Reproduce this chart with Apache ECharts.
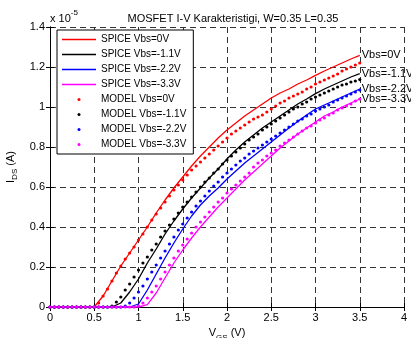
<!DOCTYPE html>
<html>
<head>
<meta charset="utf-8">
<script src="https://cdn.jsdelivr.net/npm/echarts@6/dist/echarts.min.js"></script>
<style>
html, body { margin: 0; padding: 0; background: #fff; }
#chart { width: 411px; height: 338px; }
</style>
</head>
<body>
<div id="chart"></div>
<script>
// V_GS sample points (V)
var vgsLine = [0, 0.1, 0.2, 0.3, 0.4, 0.5, 0.6, 0.7, 0.8, 0.9, 1.0, 1.1, 1.2, 1.3, 1.4, 1.5, 1.6, 1.7,
    1.8, 1.9, 2.0, 2.1, 2.2, 2.3, 2.4, 2.5, 2.6, 2.7, 2.8, 2.9, 3.0, 3.1, 3.2, 3.3, 3.4, 3.5];
var vgsDots = [0, 0.05, 0.1, 0.15, 0.2, 0.25, 0.3, 0.35, 0.4, 0.45, 0.5, 0.55, 0.6, 0.65, 0.7, 0.75,
    0.8, 0.85, 0.9, 0.95, 1.0, 1.05, 1.1, 1.15, 1.2, 1.25, 1.3, 1.35, 1.4, 1.45, 1.5, 1.55, 1.6, 1.65,
    1.7, 1.75, 1.8, 1.85, 1.9, 1.95, 2.0, 2.05, 2.1, 2.15, 2.2, 2.25, 2.3, 2.35, 2.4, 2.45, 2.5, 2.55,
    2.6, 2.65, 2.7, 2.75, 2.8, 2.85, 2.9, 2.95, 3.0, 3.05, 3.1, 3.15, 3.2, 3.25, 3.3, 3.35, 3.4, 3.45, 3.5];

// I_DS in units of 1e-5 A
var spice0 = [0, 0, 0, 0, 0, 0, 0.055, 0.13, 0.205, 0.27, 0.335, 0.40, 0.47, 0.535, 0.595, 0.65,
    0.705, 0.755, 0.80, 0.845, 0.885, 0.92, 0.955, 0.985, 1.015, 1.045, 1.07, 1.09, 1.115, 1.135,
    1.158, 1.18, 1.20, 1.22, 1.24, 1.258];
var spice11 = [0, 0, 0, 0, 0, 0, 0, 0, 0.02, 0.075, 0.14, 0.22, 0.29, 0.365, 0.43, 0.49,
    0.545, 0.595, 0.645, 0.69, 0.74, 0.785, 0.825, 0.86, 0.895, 0.925, 0.955, 0.985, 1.015, 1.04,
    1.067, 1.09, 1.11, 1.13, 1.15, 1.167];
var spice22 = [0, 0, 0, 0, 0, 0, 0, 0, 0, 0, 0.015, 0.085, 0.165, 0.245, 0.32, 0.39,
    0.455, 0.51, 0.555, 0.595, 0.64, 0.68, 0.72, 0.755, 0.79, 0.825, 0.86, 0.895, 0.928, 0.96,
    0.99, 1.01, 1.03, 1.05, 1.07, 1.09];
var spice33 = [0, 0, 0, 0, 0, 0, 0, 0, 0, 0, 0, 0.012, 0.07, 0.145, 0.22, 0.285,
    0.345, 0.40, 0.45, 0.5, 0.545, 0.59, 0.635, 0.675, 0.715, 0.755, 0.795, 0.83, 0.865, 0.895,
    0.925, 0.955, 0.975, 1.0, 1.02, 1.04];

var model0 = [0, 0, 0, 0, 0, 0, 0, 0, 0, 0, 0, 0.02, 0.055, 0.09, 0.13, 0.17, 0.205, 0.24, 0.27, 0.30,
    0.335, 0.365, 0.40, 0.435, 0.465, 0.495, 0.525, 0.555, 0.585, 0.61, 0.635, 0.66, 0.685, 0.705,
    0.725, 0.745, 0.765, 0.785, 0.805, 0.825, 0.845, 0.865, 0.88, 0.895, 0.91, 0.925, 0.94, 0.95,
    0.96, 0.975, 0.99, 1.005, 1.02, 1.03, 1.045, 1.055, 1.065, 1.075, 1.09, 1.10, 1.115, 1.125,
    1.135, 1.145, 1.155, 1.165, 1.18, 1.19, 1.20, 1.21, 1.22];
var model11 = [0, 0, 0, 0, 0, 0, 0, 0, 0, 0, 0, 0, 0, 0, 0.005, 0.025, 0.05, 0.085, 0.115, 0.15,
    0.185, 0.22, 0.25, 0.285, 0.315, 0.35, 0.38, 0.41, 0.44, 0.47, 0.50, 0.525, 0.55, 0.575,
    0.6, 0.625, 0.645, 0.67, 0.69, 0.715, 0.735, 0.755, 0.775, 0.795, 0.815, 0.835, 0.85, 0.865,
    0.885, 0.9, 0.915, 0.93, 0.945, 0.96, 0.975, 0.99, 1.0, 1.015, 1.025, 1.04, 1.05, 1.06,
    1.07, 1.08, 1.09, 1.10, 1.11, 1.115, 1.125, 1.13, 1.137];
var model22 = [0, 0, 0, 0, 0, 0, 0, 0, 0, 0, 0, 0, 0, 0, 0, 0, 0, 0.005, 0.02, 0.045,
    0.075, 0.105, 0.14, 0.175, 0.21, 0.245, 0.28, 0.315, 0.35, 0.385, 0.415, 0.445, 0.475, 0.505,
    0.53, 0.555, 0.58, 0.605, 0.625, 0.65, 0.67, 0.69, 0.71, 0.73, 0.745, 0.765, 0.78, 0.795,
    0.81, 0.825, 0.84, 0.855, 0.87, 0.885, 0.9, 0.915, 0.93, 0.94, 0.955, 0.965, 0.98, 0.99,
    1.0, 1.01, 1.025, 1.035, 1.045, 1.055, 1.065, 1.075, 1.085];
var model33 = [0, 0, 0, 0, 0, 0, 0, 0, 0, 0, 0, 0, 0, 0, 0, 0, 0, 0, 0, 0,
    0.005, 0.02, 0.045, 0.075, 0.105, 0.14, 0.175, 0.21, 0.245, 0.28, 0.31, 0.34, 0.37, 0.4,
    0.425, 0.45, 0.475, 0.5, 0.525, 0.545, 0.57, 0.59, 0.61, 0.63, 0.65, 0.67, 0.70, 0.72,
    0.735, 0.755, 0.77, 0.785, 0.805, 0.82, 0.835, 0.85, 0.865, 0.88, 0.895, 0.905, 0.92, 0.935,
    0.945, 0.96, 0.97, 0.985, 0.995, 1.005, 1.015, 1.03, 1.04];

var names = ['SPICE Vbs=0V', 'SPICE Vbs=-1.1V', 'SPICE Vbs=-2.2V', 'SPICE Vbs=-3.3V',
    'MODEL Vbs=0V', 'MODEL Vbs=-1.1V', 'MODEL Vbs=-2.2V', 'MODEL Vbs=-3.3V'];
var endNames = ['Vbs=0V', 'Vbs=-1.1V', 'Vbs=-2.2V', 'Vbs=-3.3V'];
var colors = ['#ff0000', '#000000', '#0000ff', '#ff00ff'];

var font = 'Arial, "Liberation Sans", Helvetica, sans-serif';

function pairs(xs, ys) {
    return xs.map(function (x, i) { return [x, ys[i]]; });
}

var spice = [spice0, spice11, spice22, spice33];
var model = [model0, model11, model22, model33];

var series = [];
spice.forEach(function (ys, i) {
    series.push({
        name: names[i],
        type: 'line',
        symbol: 'none',
        data: pairs(vgsLine, ys),
        lineStyle: { color: colors[i], width: 1.3 },
        itemStyle: { color: colors[i] },
        endLabel: {
            show: true,
            formatter: endNames[i],
            color: '#000',
            fontFamily: font,
            fontSize: 11,
            distance: 2
        },
        z: 2
    });
});
model.forEach(function (ys, i) {
    series.push({
        name: names[i + 4],
        type: 'scatter',
        symbol: 'circle',
        symbolSize: 3.2,
        data: pairs(vgsDots, ys),
        itemStyle: { color: colors[i], opacity: 1 },
        z: 3
    });
});

// legend: plain line icon for SPICE, dot for MODEL
var legendData = names.map(function (n, i) {
    if (i < 4) {
        return { name: n, icon: 'path://M0,0L34,0L34,1.5L0,1.5Z' };
    }
    return { name: n, icon: 'circle' };
});

var splitStyle = { show: true, lineStyle: { color: '#333', type: [6, 4], width: 1 } };

var myChart = echarts.init(document.getElementById('chart'));
var option = {
    animation: false,
    backgroundColor: '#fff',
    title: {
        text: 'MOSFET I-V Karakteristigi, W=0.35 L=0.35',
        left: 228,
        textAlign: 'center',
        top: 8,
        textStyle: { fontFamily: font, fontSize: 11, fontWeight: 'normal', color: '#000' }
    },
    graphic: [{
        type: 'text',
        left: 50,
        top: 9,
        style: {
            text: '{a|x 10}{b|-5}',
            rich: {
                a: { fontFamily: font, fontSize: 11, color: '#000', padding: [4, 0, 0, 0] },
                b: { fontFamily: font, fontSize: 8, color: '#000', verticalAlign: 'top' }
            }
        }
    }],
    legend: {
        orient: 'vertical',
        left: 57,
        top: 30,
        data: legendData,
        itemWidth: 34,
        itemHeight: 3,
        itemGap: 2,
        padding: [3, 7, 3, 5],
        borderColor: '#000',
        borderWidth: 1,
        borderRadius: 0,
        backgroundColor: '#fff',
        textStyle: { fontFamily: font, fontSize: 10, color: '#000', lineHeight: 13 }
    },
    grid: { left: 50, right: 7, top: 27, bottom: 31, outerBoundsMode: 'none', containLabel: false },
    xAxis: [{
        type: 'value',
        min: 0, max: 4, interval: 0.5,
        name: '{a|V}{b|GS}{a| (V)}',
        nameLocation: 'middle',
        nameGap: 16,
        nameTextStyle: {
            rich: {
                a: { fontFamily: font, fontSize: 11, color: '#000' },
                b: { fontFamily: font, fontSize: 8, color: '#000', padding: [8, 0, 0, 0] }
            }
        },
        axisLine: { show: true, lineStyle: { color: '#000', width: 1 } },
        axisTick: { show: true, inside: true, length: 4, lineStyle: { color: '#000' } },
        axisLabel: { fontFamily: font, fontSize: 11, color: '#000', margin: 5 },
        splitLine: splitStyle
    }, {
        type: 'value',
        position: 'top',
        min: 0, max: 4, interval: 0.5,
        axisLine: { show: true, lineStyle: { color: '#000', width: 1 } },
        axisTick: { show: true, inside: true, length: 4, lineStyle: { color: '#000' } },
        axisLabel: { show: false },
        splitLine: { show: false }
    }],
    yAxis: [{
        type: 'value',
        min: 0, max: 1.4, interval: 0.2,
        name: '{a|I}{b|DS}{a| (A)}',
        nameLocation: 'middle',
        nameGap: 27,
        nameRotate: 90,
        nameTextStyle: {
            rich: {
                a: { fontFamily: font, fontSize: 11, color: '#000' },
                b: { fontFamily: font, fontSize: 8, color: '#000', padding: [8, 0, 0, 0] }
            }
        },
        axisLine: { show: true, lineStyle: { color: '#000', width: 1 } },
        axisTick: { show: true, inside: true, length: 4, lineStyle: { color: '#000' } },
        axisLabel: { fontFamily: font, fontSize: 11, color: '#000', margin: 5 },
        splitLine: splitStyle
    }, {
        type: 'value',
        position: 'right',
        min: 0, max: 1.4, interval: 0.2,
        axisLine: { show: true, lineStyle: { color: '#000', width: 1 } },
        axisTick: { show: true, inside: true, length: 4, lineStyle: { color: '#000' } },
        axisLabel: { show: false },
        splitLine: { show: false }
    }],
    series: series
};
myChart.setOption(option);
</script>
</body>
</html>
